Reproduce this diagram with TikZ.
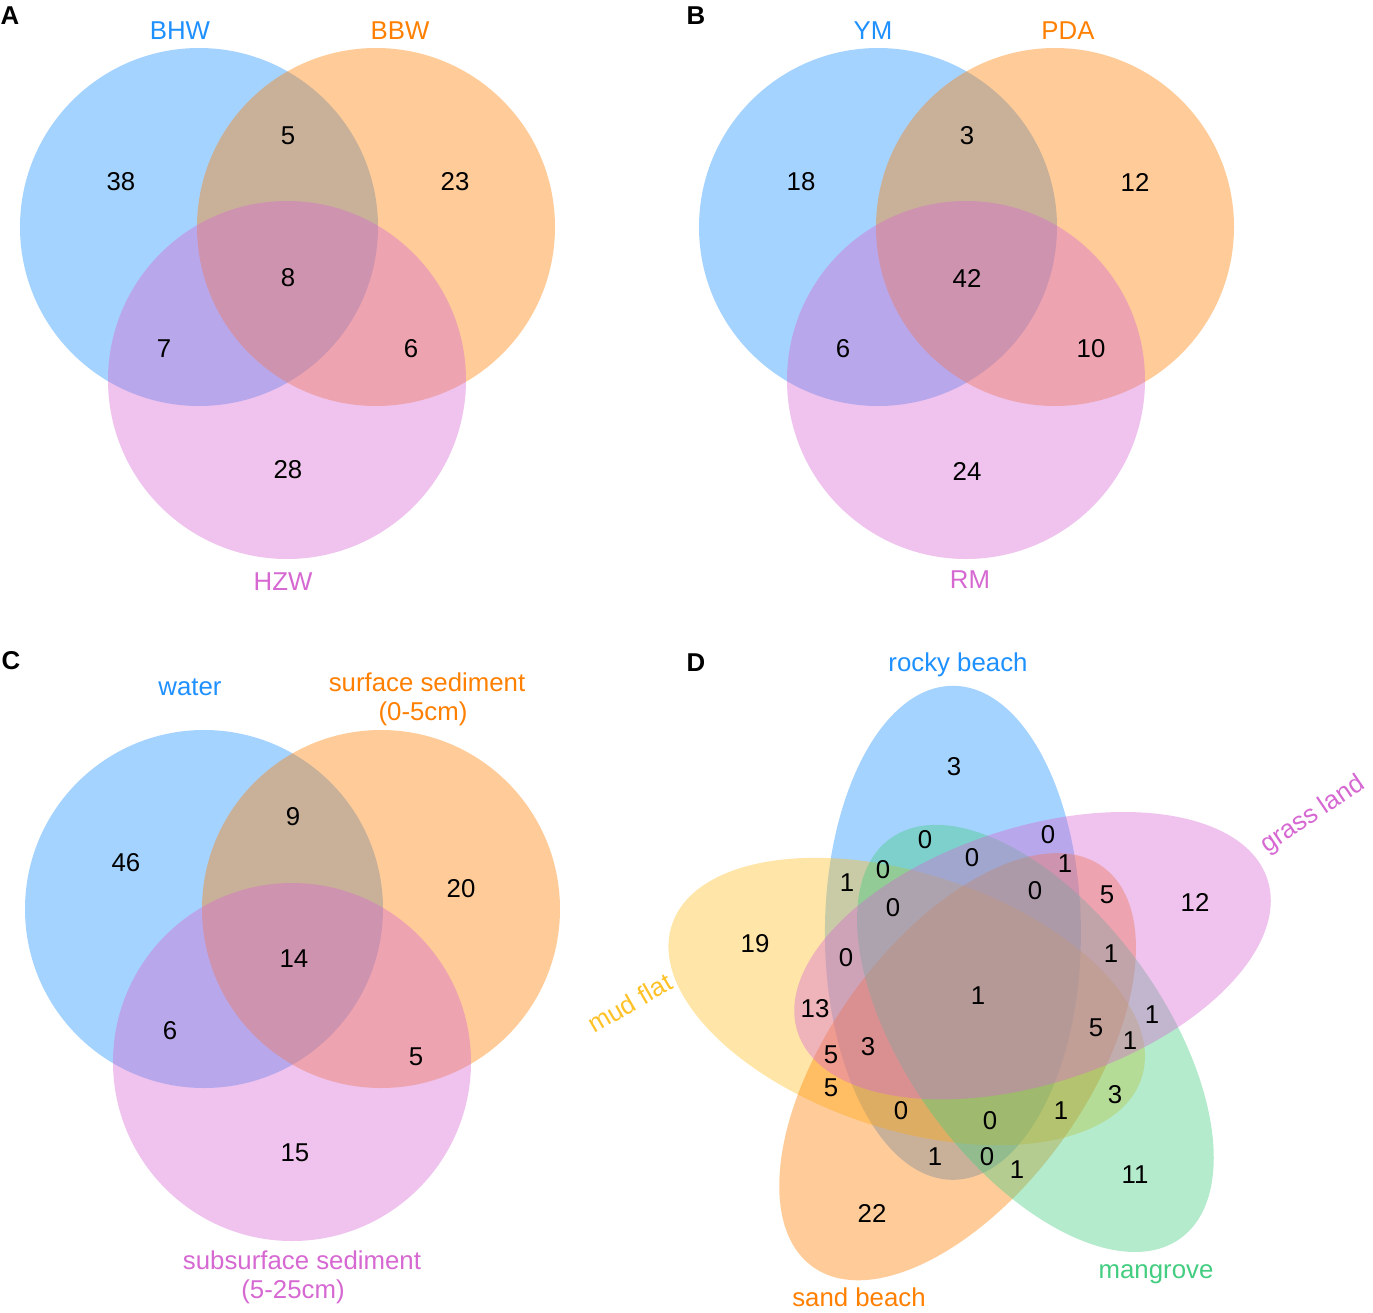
\documentclass[tikz,border=0pt]{standalone}
\usepackage{fontspec}
\setmainfont{Liberation Sans}
\usetikzlibrary{shapes.geometric}
\definecolor{cblue}{RGB}{30,144,255}
\definecolor{corange}{RGB}{255,127,0}
\definecolor{cpink}{RGB}{214,104,210}
\definecolor{cgreen}{RGB}{67,205,128}
\definecolor{cyellow}{RGB}{255,193,37}
\begin{document}
\begin{tikzpicture}[x=1pt,y=-1pt,
  vcirc/.style={circle,minimum size=358pt,inner sep=0pt,draw=none,fill opacity=0.4},
  vell/.style={ellipse,minimum width=494pt,minimum height=256pt,inner sep=0pt,draw=none,fill opacity=0.4},
  num/.style={font=\fontsize{25.8}{30}\selectfont,text=black,inner sep=0pt},
  lab/.style={font=\fontsize{25.8}{30}\selectfont,inner sep=0pt,anchor=base},
  rlab/.style={font=\fontsize{25.8}{30}\selectfont,inner sep=0pt},
  panel/.style={font=\fontsize{25.8}{30}\selectfont\bfseries,text=black,inner sep=0pt}]
\useasboundingbox (0,0) rectangle (1373,1312);

% ---------------- Panel A ----------------
\node[panel] (pA) at (10,16) {A};
\node[vcirc,fill=cblue]   (A1) at (199,227) {};
\node[vcirc,fill=corange] (A2) at (376,227) {};
\node[vcirc,fill=cpink]   (A3) at (287,380) {};
\node[lab,text=cblue]   (lA1) at (180,39) {BHW};
\node[lab,text=corange] (lA2) at (400,39) {BBW};
\node[lab,text=cpink]   (lA3) at (283,590) {HZW};
\node[num] (nA1) at (121,182) {38};
\node[num] (nA2) at (288,136) {5};
\node[num] (nA3) at (455,182) {23};
\node[num] (nA4) at (288,278) {8};
\node[num] (nA5) at (164,349) {7};
\node[num] (nA6) at (411,349) {6};
\node[num] (nA7) at (288,470) {28};

% ---------------- Panel B ----------------
\node[panel] (pB) at (696,16) {B};
\node[vcirc,fill=cblue]   (B1) at (878,227) {};
\node[vcirc,fill=corange] (B2) at (1055,227) {};
\node[vcirc,fill=cpink]   (B3) at (966,380) {};
\node[lab,text=cblue]   (lB1) at (873,39) {YM};
\node[lab,text=corange] (lB2) at (1068,39) {PDA};
\node[lab,text=cpink]   (lB3) at (970,588) {RM};
\node[num] (nB1) at (801,182) {18};
\node[num] (nB2) at (967,136) {3};
\node[num] (nB3) at (1135,182) {12};
\node[num] (nB4) at (967,278) {42};
\node[num] (nB5) at (843,349) {6};
\node[num] (nB6) at (1091,349) {10};
\node[num] (nB7) at (967,471) {24};

% ---------------- Panel C ----------------
\node[panel] (pC) at (11,661) {C};
\node[vcirc,fill=cblue]   (C1) at (204,909) {};
\node[vcirc,fill=corange] (C2) at (381,909) {};
\node[vcirc,fill=cpink]   (C3) at (292,1062) {};
\node[lab,text=cblue]   (lC1) at (190,695) {water};
\node[lab,text=corange] (lC2) at (427,691) {surface sediment};
\node[lab,text=corange] (lC2b) at (423,720) {(0-5cm)};
\node[lab,text=cpink]   (lC3) at (302,1269) {subsurface sediment};
\node[lab,text=cpink]   (lC3b) at (293,1298) {(5-25cm)};
\node[num] (nC1) at (126,863) {46};
\node[num] (nC2) at (293,817) {9};
\node[num] (nC3) at (461,889) {20};
\node[num] (nC4) at (294,959) {14};
\node[num] (nC5) at (170,1031) {6};
\node[num] (nC6) at (416,1057) {5};
\node[num] (nC7) at (295,1153) {15};

% ---------------- Panel D ----------------
\node[panel] (pD) at (696,663) {D};
\node[vell,fill=cblue,rotate=90]    (D1) at (952.9,932.8) {};
\node[vell,fill=cyellow,rotate=-18] (D5) at (906.7,1001.5) {};
\node[vell,fill=corange,rotate=54]  (D4) at (957.6,1066.7) {};
\node[vell,fill=cgreen,rotate=-54]  (D3) at (1035.4,1038.4) {};
\node[vell,fill=cpink,rotate=18]    (D2) at (1032.5,955.7) {};
\node[lab,text=cblue]   (lD1) at (958,671) {rocky beach};
\node[rlab,text=cpink,rotate=34] (lD2) at (1313,815) {grass land};
\node[lab,text=cgreen]  (lD3) at (1156,1278) {mangrove};
\node[lab,text=corange] (lD4) at (859,1306) {sand beach};
\node[rlab,text=cyellow,rotate=30] (lD5) at (630,1003) {mud flat};
\node[num] (nD01) at (954,767) {3};
\node[num] (nD02) at (925,840) {0};
\node[num] (nD03) at (1048,835) {0};
\node[num] (nD04) at (972,858) {0};
\node[num] (nD05) at (1065,864) {1};
\node[num] (nD06) at (847,883) {1};
\node[num] (nD07) at (883,870) {0};
\node[num] (nD08) at (1035,891) {0};
\node[num] (nD09) at (1107,895) {5};
\node[num] (nD10) at (1195,902) {12};
\node[num] (nD11) at (893,908) {0};
\node[num] (nD12) at (755,944) {19};
\node[num] (nD13) at (846,958) {0};
\node[num] (nD14) at (1111,954) {1};
\node[num] (nD15) at (978,996) {1};
\node[num] (nD16) at (815,1009) {13};
\node[num] (nD17) at (1152,1015) {1};
\node[num] (nD18) at (1096,1028) {5};
\node[num] (nD19) at (1130,1041) {1};
\node[num] (nD20) at (868,1047) {3};
\node[num] (nD21) at (831,1055) {5};
\node[num] (nD22) at (831,1088) {5};
\node[num] (nD23) at (1115,1095) {3};
\node[num] (nD24) at (901,1111) {0};
\node[num] (nD25) at (990,1121) {0};
\node[num] (nD26) at (1061,1111) {1};
\node[num] (nD27) at (935,1157) {1};
\node[num] (nD28) at (987,1157) {0};
\node[num] (nD29) at (1017,1170) {1};
\node[num] (nD30) at (1135,1175) {11};
\node[num] (nD31) at (872,1213) {22};
\end{tikzpicture}
\end{document}
